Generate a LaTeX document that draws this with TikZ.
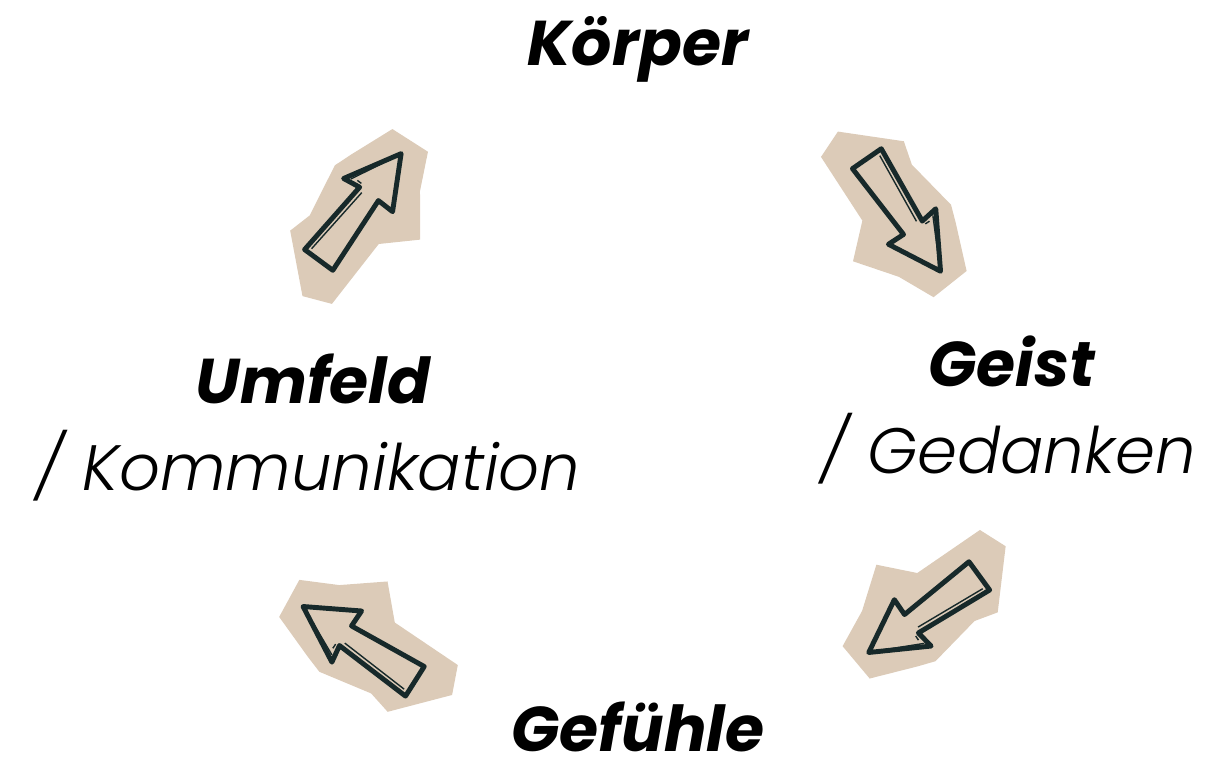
\documentclass[tikz,border=0pt]{standalone}
\usepackage{fontspec}
\setmainfont{Poppins}
\newfontfamily\lightit{Poppins Light Italic}
\definecolor{paper}{HTML}{DCCBB8}
\definecolor{ink}{HTML}{17292A}

\tikzset{
  heading/.style={font=\fontsize{36}{40}\selectfont\bfseries\itshape, anchor=base, inner sep=0pt},
  sublabel/.style={font=\fontsize{36.5}{40}\selectfont\lightit, anchor=base, inner sep=0pt},
  sketcharrow/.pic={
    % paper scrap behind the arrow
    \fill[paper] (149,-22) -- (153,20) -- (117,38) -- (79,68) -- (50,38) -- (-26,38)
      -- (-38,10) -- (6,-40) -- (30,-34) -- (85,-45) -- (103,-39) -- cycle;
    % hand drawn outline
    \draw[ink, line width=2.8pt, line join=round]
      (0,-17) -- (83,-12) -- (80,-30) -- (135,0) -- (84,29) -- (84,11) -- (1,18) -- cycle;
    \draw[ink, line width=0.8pt]
      (84,-24) -- (128,-3);
    \draw[ink, line width=0.8pt]
      (87,-18) -- (87,-13) (5,-12) -- (80,-7);
  }
}

\begin{document}
\begin{tikzpicture}[x=0.02cm, y=-0.02cm]
  \useasboundingbox (0,0) rectangle (1206,768);
  % labels
  \node[heading]  (koerper)  at (638,65)  {Körper};
  \node[heading]  (geist)    at (1012,386) {Geist};
  \node[sublabel] (gedanken) at (1008,473) {/ Gedanken};
  \node[heading]  (umfeld)   at (313,403) {Umfeld};
  \node[sublabel] (komm)     at (308,490) {/ Kommunikation};
  \node[heading, text depth=0pt] (gefuehle) at (638,751) {Gefühle};
  % arrows
  \pic[rotate=52]     at (318,260) {sketcharrow};
  \pic[rotate=-57]    at (867,158) {sketcharrow};
  \pic[rotate=-145.5] at (980,576) {sketcharrow};
  \pic[rotate=146]    at (415,682) {sketcharrow};
\end{tikzpicture}
\end{document}
